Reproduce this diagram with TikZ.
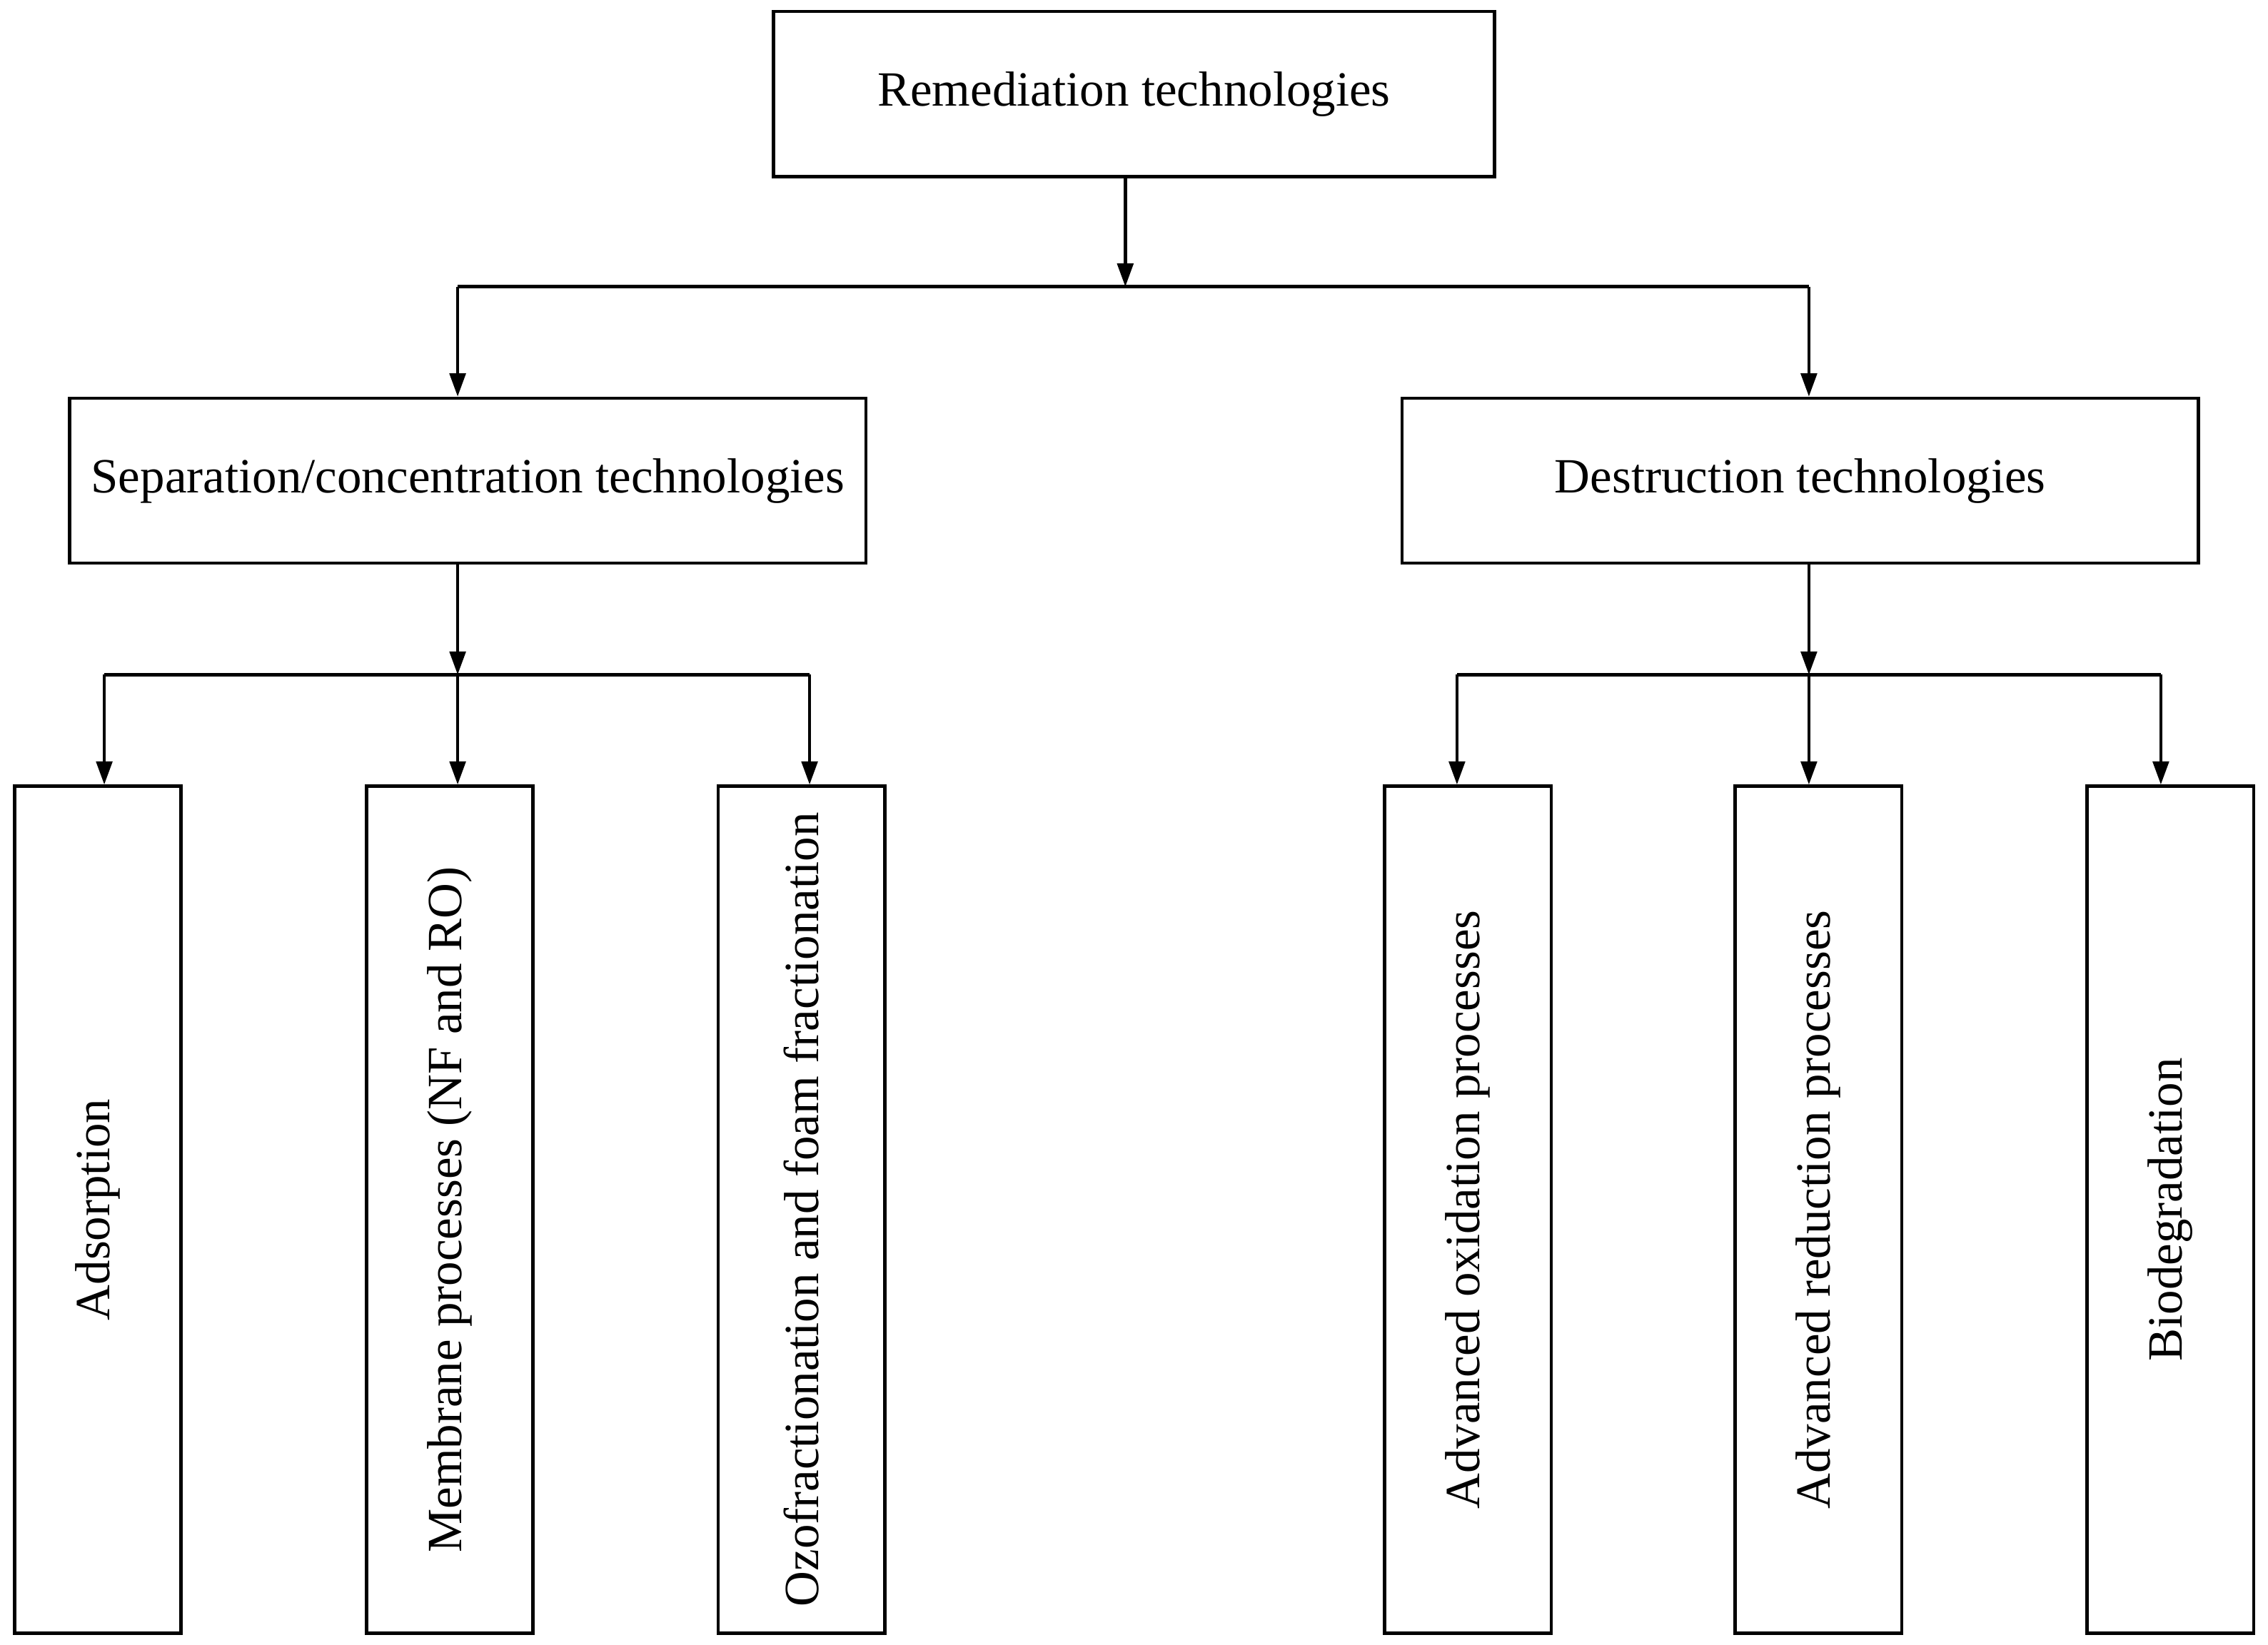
\documentclass[tikz,border=0pt]{standalone}
\usepackage{fontspec}
\setmainfont{Liberation Serif}
\usetikzlibrary{arrows.meta}
\begin{document}
\begin{tikzpicture}[x=1pt,y=-1pt,
  box/.style={draw,line width=2.2pt,inner sep=0pt,font=\fontsize{34}{40}\selectfont},
  conn/.style={line width=2.2pt},
  arr/.style={conn,-{Triangle[length=16pt,width=11pt]}}]
\useasboundingbox (0,0) rectangle (1566,1136);
\node[box,minimum width=498pt,minimum height=114pt] (top) at (783,65) {Remediation technologies};
\node[box,minimum width=550pt,minimum height=114pt] (sep) at (323,332) {Separation/concentration technologies};
\node[box,minimum width=550pt,minimum height=114pt] (des) at (1243,332) {Destruction technologies};
\foreach \n/\x in {ads/67.5,mem/310.5,ozo/553.5,aop/1013.5,arp/1255.5,bio/1498.5}
  \node[box,minimum width=115pt,minimum height=585pt] (\n) at (\x,835.5) {};
\foreach \n/\t in {ads/Adsorption,mem/Membrane processes (NF and RO),ozo/Ozofractionation and foam fractionation,aop/Advanced oxidation processes,arp/Advanced reduction processes,bio/Biodegradation}
  \node[font=\fontsize{34}{40}\selectfont,rotate=90] (\n t) at (\n) {\t};
\coordinate (j0) at (777,198);
\coordinate (jl) at (316,198);
\coordinate (jr) at (1249,198);
\draw[arr] (top.south -| j0) -- (j0);
\draw[conn] (jl) -- (jr);
\draw[arr] (jl) -- (jl |- sep.north);
\draw[arr] (jr) -- (jr |- des.north);
\coordinate (s0) at (316,466);
\coordinate (s1) at (72,466);
\coordinate (s3) at (559,466);
\draw[arr] (sep.south -| s0) -- (s0);
\draw[conn] (s1) -- (s3);
\draw[arr] (s1) -- (s1 |- ads.north);
\draw[arr] (s0) -- (s0 |- mem.north);
\draw[arr] (s3) -- (s3 |- ozo.north);
\coordinate (d0) at (1249,466);
\coordinate (d1) at (1006,466);
\coordinate (d3) at (1492,466);
\draw[arr] (des.south -| d0) -- (d0);
\draw[conn] (d1) -- (d3);
\draw[arr] (d1) -- (d1 |- aop.north);
\draw[arr] (d0) -- (d0 |- arp.north);
\draw[arr] (d3) -- (d3 |- bio.north);
\end{tikzpicture}
\end{document}
